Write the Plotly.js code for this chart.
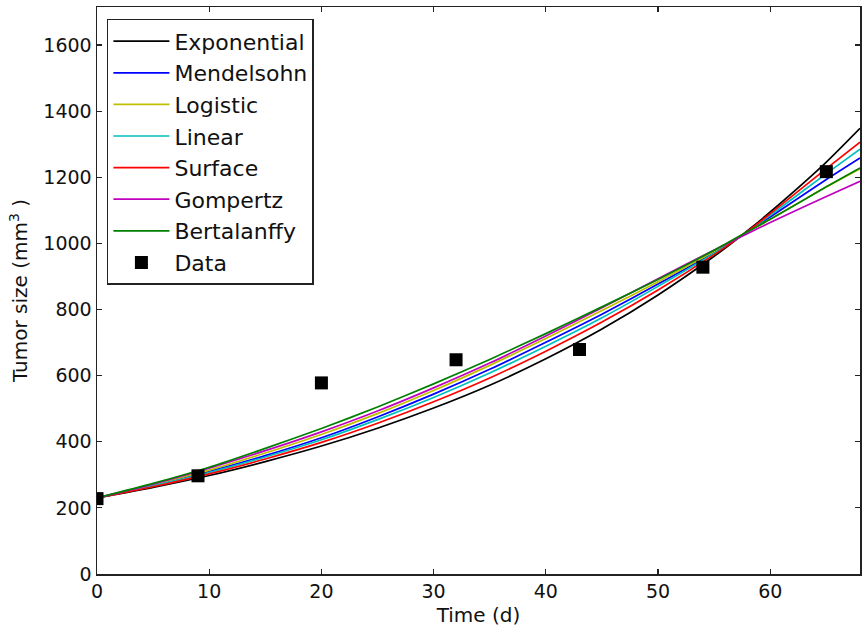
<!DOCTYPE html>
<html>
<head>
<meta charset="utf-8">
<script src="https://cdn.plot.ly/plotly-3.0.1.min.js"></script>
<style>html,body{margin:0;padding:0;background:#fff;}#chart{width:862px;height:629px;}</style>
</head>
<body>
<div id="chart"></div>
<script>
// Model curves
var tModel = [0, 5, 10, 15, 20, 25, 30, 35, 40, 45, 50, 55, 58, 60, 65, 68];
var exponential = [230, 262, 298, 340, 387, 441, 502, 571, 651, 741, 844, 961, 1039, 1095, 1246, 1348];
var mendelsohn  = [230, 268, 310, 358, 412, 475, 544, 619, 701, 786, 877, 972, 1036, 1080, 1193, 1258];
var logistic    = [230, 270, 314, 366, 422, 485, 555, 631, 712, 797, 884, 976, 1036, 1073, 1171, 1226];
var linear      = [230, 267, 307, 354, 406, 467, 534, 608, 689, 775, 870, 970, 1036, 1085, 1211, 1285];
var surface     = [230, 264, 303, 348, 398, 456, 521, 593, 674, 762, 859, 966, 1037, 1090, 1226, 1306];
var gompertz    = [230, 272, 320, 373, 430, 493, 563, 638, 720, 805, 893, 980, 1030, 1063, 1142, 1188];
var bertalanffy = [230, 274, 323, 380, 440, 505, 575, 649, 727, 808, 891, 979, 1036, 1073, 1171, 1228];

// Measured data
var tData = [0, 9, 20, 32, 43, 54, 65];
var sizeData = [228, 297, 578, 648, 679, 928, 1217];

var xTicks = [0, 10, 20, 30, 40, 50, 60];
var yTicks = [0, 200, 400, 600, 800, 1000, 1200, 1400, 1600];

var FONT = "DejaVu Sans, sans-serif";
function curve(name, y, color) {
  return {x: tModel, y: y, name: name, type: 'scatter', mode: 'lines',
          line: {color: color, width: 1.7, shape: 'spline', smoothing: 0.6}};
}
var traces = [
  curve('Exponential', exponential, '#000000'),
  curve('Mendelsohn', mendelsohn, '#0000ff'),
  curve('Logistic', logistic, '#bfbf00'),
  curve('Linear', linear, '#00bfbf'),
  curve('Surface', surface, '#ff0000'),
  curve('Gompertz', gompertz, '#bf00bf'),
  curve('Bertalanffy', bertalanffy, '#008000'),
  {x: tData, y: sizeData, name: 'Data', type: 'scatter', mode: 'markers',
   marker: {symbol: 'square', size: 13, color: '#000000'}}
];

var axisCommon = {
  showgrid: false, zeroline: false, showline: true, linecolor: '#222', linewidth: 1.5,
  mirror: 'ticks', ticks: 'inside', ticklen: 5, tickwidth: 1.2, tickcolor: '#222',
  tickfont: {family: FONT, size: 19, color: '#111'}
};

var layout = {
  width: 862, height: 629,
  margin: {l: 97, r: 2, t: 7, b: 55},
  paper_bgcolor: '#fff', plot_bgcolor: '#fff',
  font: {family: FONT, color: '#111'},
  showlegend: true,
  xaxis: Object.assign({}, axisCommon, {
    range: [0, 68], tickmode: 'array', tickvals: xTicks, ticktext: xTicks.map(String),
    title: {text: 'Time (d)', font: {family: FONT, size: 20, color: '#111'}, standoff: 6}
  }),
  yaxis: Object.assign({}, axisCommon, {
    range: [0, 1715], tickmode: 'array', tickvals: yTicks, ticktext: yTicks.map(String),
    title: {text: 'Tumor size (mm<sup>3</sup> )', font: {family: FONT, size: 20, color: '#111'}, standoff: 10}
  }),
  legend: {
    x: 0.013, y: 0.979, xanchor: 'left', yanchor: 'top',
    bgcolor: '#fff', bordercolor: '#222', borderwidth: 1.5,
    font: {family: FONT, size: 22, color: '#111'},
    itemwidth: 56, tracegroupgap: 0
  }
};

Plotly.newPlot('chart', traces, layout, {displayModeBar: false, staticPlot: true});
</script>
</body>
</html>
